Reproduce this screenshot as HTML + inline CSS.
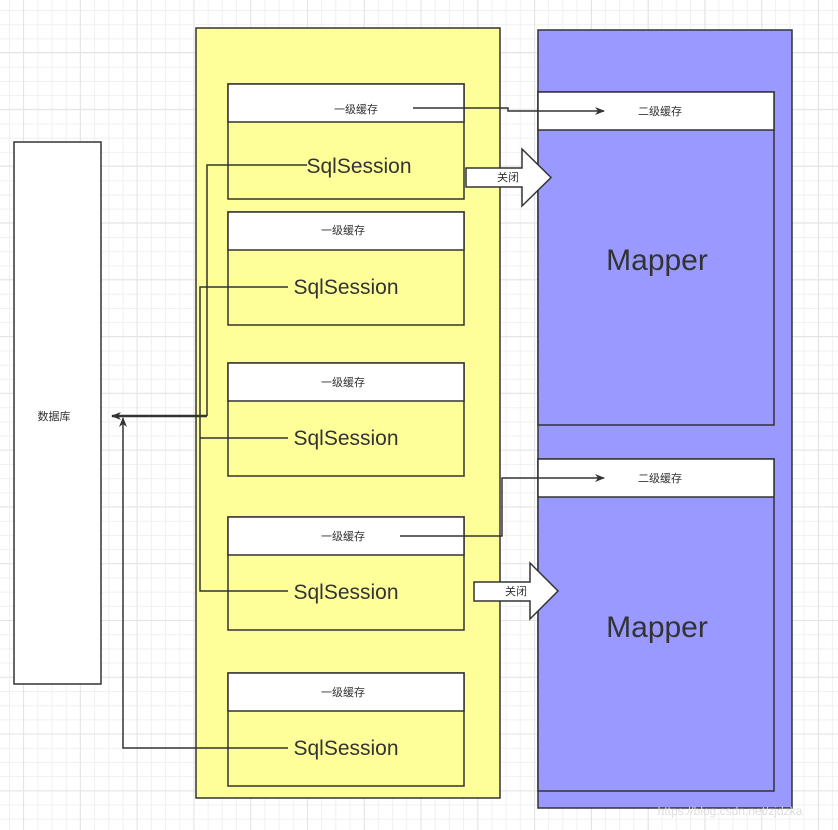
<!DOCTYPE html>
<html><head><meta charset="utf-8"><style>
body{margin:0;width:838px;height:830px;overflow:hidden;background:#fff;
background-image:linear-gradient(#e4e4e4 1px,transparent 1px),linear-gradient(90deg,#e4e4e4 1px,transparent 1px),linear-gradient(#f0f0f0 1px,transparent 1px),linear-gradient(90deg,#f0f0f0 1px,transparent 1px);
background-size:56.8px 56.8px,56.8px 56.8px,14.2px 14.2px,14.2px 14.2px;background-position:23px 52px,23px 52px,9px 10px,9px 10px;}
</style></head><body>
<svg width="838" height="830" style="position:absolute;left:0;top:0" font-family="Liberation Sans, Noto Sans CJK SC, sans-serif">
<defs><marker id="a" markerWidth="10" markerHeight="10" refX="9" refY="5" orient="auto" markerUnits="userSpaceOnUse"><path d="M0,1 L10,5 L0,9 L3,5z" fill="#333"/></marker></defs>
<g stroke="#333" stroke-width="1.5">
<rect x="14" y="142" width="87" height="542" fill="#fff"/>
<rect x="196" y="28" width="304" height="770" fill="#ffff99"/>
<rect x="538" y="30" width="254" height="778" fill="#9999ff"/>
<rect x="538" y="92" width="236" height="333" fill="#9999ff"/>
<rect x="538" y="92" width="236" height="38" fill="#fff"/>
<rect x="538" y="459" width="236" height="332" fill="#9999ff"/>
<rect x="538" y="459" width="236" height="38" fill="#fff"/>
</g>
<g stroke="#333" stroke-width="1.5" fill="#ffff99">
<rect x="228" y="84" width="236" height="115"/><rect x="228" y="84" width="236" height="38" fill="#fff"/>
<rect x="228" y="212" width="236" height="113"/><rect x="228" y="212" width="236" height="38" fill="#fff"/>
<rect x="228" y="363" width="236" height="113"/><rect x="228" y="363" width="236" height="38" fill="#fff"/>
<rect x="228" y="517" width="236" height="113"/><rect x="228" y="517" width="236" height="38" fill="#fff"/>
<rect x="228" y="673" width="236" height="113"/><rect x="228" y="673" width="236" height="38" fill="#fff"/>
</g>
<g fill="none" stroke="#333" stroke-width="1.5">
<path d="M307,165 H207 V416"/>
<path d="M288,287 H200 V591 H288"/>
<path d="M288,438 H200"/>
<path d="M207,416 H112" stroke-width="2.5" marker-end="url(#a)"/>
<path d="M288,748 H123 V418" marker-end="url(#a)"/>
<path d="M413,108 H508 V111 H604" marker-end="url(#a)"/>
<path d="M400,536 H502 V478 H604" marker-end="url(#a)"/>
</g>
<g stroke="#333" stroke-width="1.5" fill="#fff">
<path d="M466,168 H522 V149 L551,177.5 L522,206 V187 H466z"/>
<path d="M474,582 H530 V563 L558,591 L530,619 V601 H474z"/>
</g>
<g fill="#333" font-size="11" text-anchor="middle">
<text x="356" y="113">一级缓存</text>
<text x="343" y="234">一级缓存</text>
<text x="343" y="386">一级缓存</text>
<text x="343" y="540">一级缓存</text>
<text x="343" y="696">一级缓存</text>
<text x="660" y="115">二级缓存</text>
<text x="660" y="482">二级缓存</text>
<text x="508" y="181">关闭</text>
<text x="516" y="595">关闭</text>
<text x="54" y="420">数据库</text>
</g>
<g fill="#333" font-size="21" text-anchor="middle">
<text x="359" y="173">SqlSession</text>
<text x="346" y="294">SqlSession</text>
<text x="346" y="445">SqlSession</text>
<text x="346" y="599">SqlSession</text>
<text x="346" y="755">SqlSession</text>
</g>
<g fill="#333" font-size="30" text-anchor="middle">
<text x="657" y="270">Mapper</text>
<text x="657" y="637">Mapper</text>
</g>
<text x="730" y="815" font-size="12" fill="#ddd" text-anchor="middle">https://blog.csdn.net/zjdzka</text>
</svg>
</body></html>
